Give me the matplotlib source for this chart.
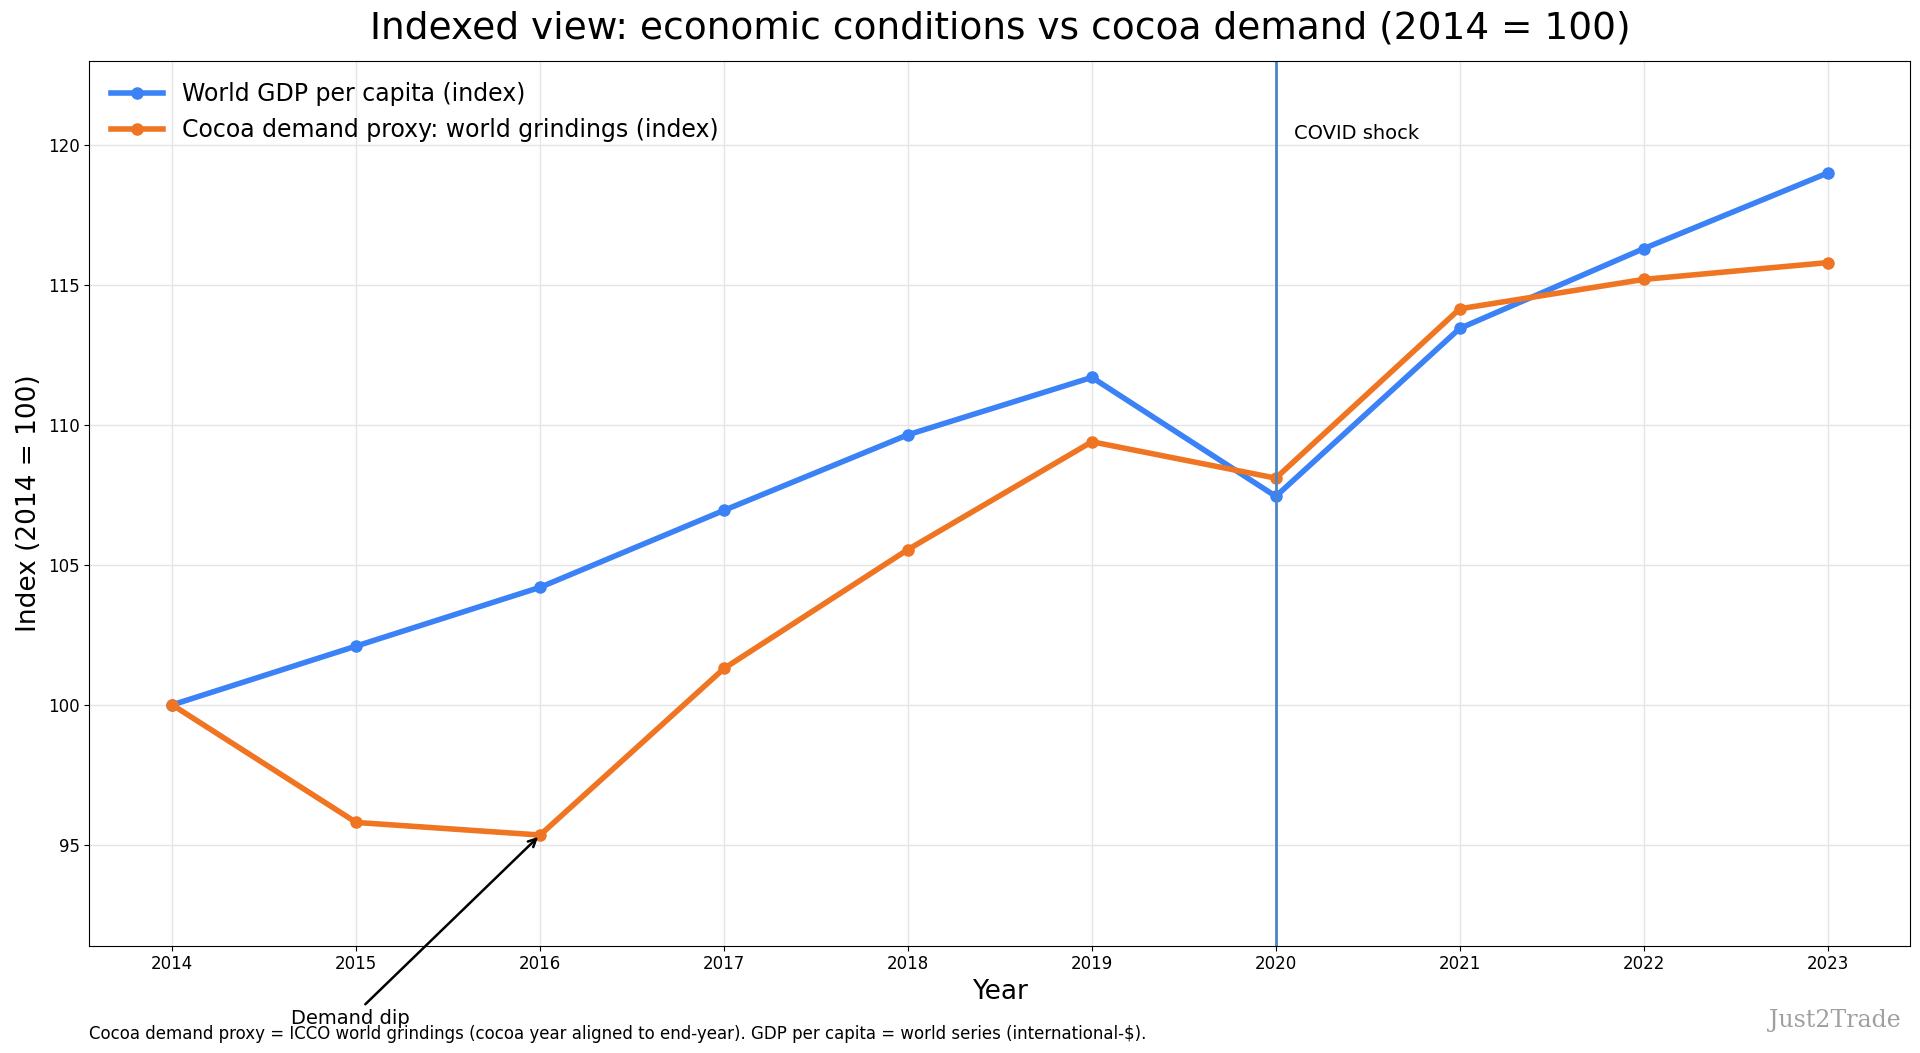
import matplotlib.pyplot as plt

years = [2014, 2015, 2016, 2017, 2018, 2019, 2020, 2021, 2022, 2023]
gdp_index = [100, 102.1, 104.2, 106.95, 109.65, 111.7, 107.45, 113.45, 116.3, 119.0]
cocoa_index = [100, 95.8, 95.35, 101.3, 105.55, 109.4, 108.1, 114.15, 115.2, 115.8]

fig = plt.figure(figsize=(19.2, 10.53), dpi=100)
ax = fig.add_axes([0.0466, 0.102, 0.9484, 0.840])

ax.plot(years, gdp_index, color="#3b82f6", lw=4, marker="o", ms=8,
        label="World GDP per capita (index)")
ax.plot(years, cocoa_index, color="#f07522", lw=4, marker="o", ms=8,
        label="Cocoa demand proxy: world grindings (index)")

# COVID marker
ax.axvline(2020, color="#4a86c8", lw=2)
ax.text(2020.1, 120.2, "COVID shock", fontsize=14)

ax.annotate("Demand dip", xy=(2016, 95.35), xytext=(2014.97, 88.6),
            fontsize=14, ha="center", annotation_clip=False,
            arrowprops=dict(arrowstyle="->", color="black", lw=1.8))

ax.set_xlim(2013.55, 2023.45)
ax.set_ylim(91.4, 123.0)
ax.set_xticks(years)
ax.set_yticks([95, 100, 105, 110, 115, 120])
ax.tick_params(labelsize=12)
ax.grid(True, color="#e5e5e5", lw=1)
ax.set_xlabel("Year", fontsize=19)
ax.set_ylabel("Index (2014 = 100)", fontsize=19)
ax.set_title("Indexed view: economic conditions vs cocoa demand (2014 = 100)",
             fontsize=27, pad=16)
ax.legend(loc="upper left", fontsize=17, frameon=False, handlelength=2.2)

fig.text(0.0466, 0.013,
         "Cocoa demand proxy = ICCO world grindings (cocoa year aligned to end-year). "
         "GDP per capita = world series (international-$).", fontsize=12)
fig.text(0.99, 0.025, "Just2Trade", fontsize=17, color="#a0a0a0",
         family="DejaVu Serif", ha="right")

plt.savefig("out.png", dpi=100)
